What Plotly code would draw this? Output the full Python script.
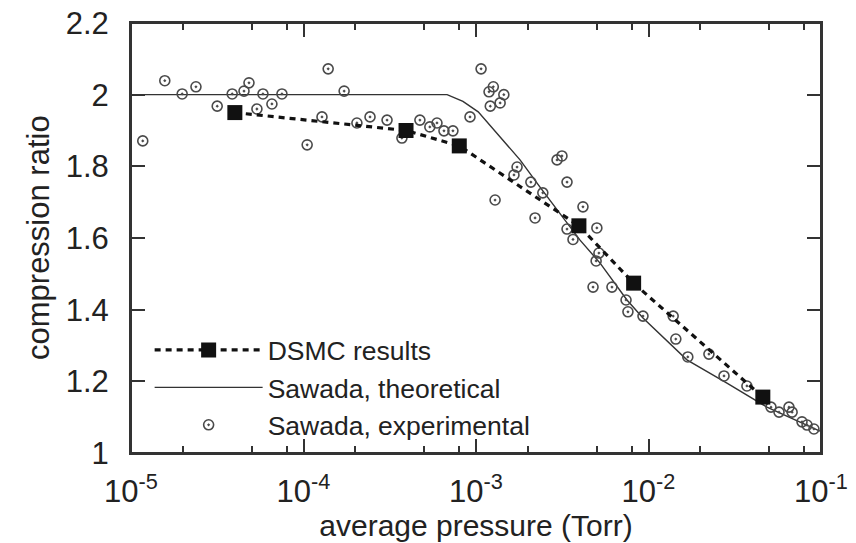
import plotly.graph_objects as go

# DSMC results
dsmc_p = [4.0e-5, 3.93e-4, 8.0e-4, 3.95e-3, 8.2e-3, 4.6e-2]
dsmc_r = [1.95, 1.90, 1.857, 1.634, 1.474, 1.156]

# Sawada, theoretical
theo_p = [1.0e-5, 6.8e-4, 8.4e-4, 1.03e-3, 1.38e-3, 1.80e-3, 2.35e-3, 2.95e-3,
          4.01e-3, 5.24e-3, 7.5e-3, 9.29e-3, 1.67e-2, 2.85e-2, 4.86e-2, 9.86e-2]
theo_r = [2.0, 2.0, 1.981, 1.952, 1.882, 1.818, 1.742, 1.678,
          1.594, 1.530, 1.427, 1.377, 1.260, 1.195, 1.128, 1.061]

# Sawada, experimental
exp_p = [1.17e-5, 1.57e-5, 1.98e-5, 2.38e-5, 3.16e-5, 3.86e-5, 4.52e-5, 4.83e-5,
         5.37e-5, 5.82e-5, 6.56e-5, 7.5e-5, 1.05e-4, 1.28e-4, 1.39e-4, 1.72e-4,
         2.04e-4, 2.43e-4, 3.05e-4, 3.72e-4, 4.73e-4, 5.4e-4, 5.94e-4, 6.52e-4,
         7.35e-4, 9.23e-4, 1.07e-3, 1.19e-3, 1.26e-3, 1.45e-3, 1.38e-3, 1.21e-3,
         1.29e-3, 1.73e-3, 1.66e-3, 2.08e-3, 2.44e-3, 2.20e-3, 2.95e-3, 3.15e-3,
         3.37e-3, 4.17e-3, 3.37e-3, 3.65e-3, 5.02e-3, 5.16e-3, 4.97e-3, 4.77e-3,
         6.14e-3, 7.41e-3, 7.6e-3, 9.29e-3, 1.39e-2, 1.44e-2, 1.69e-2, 2.24e-2,
         2.74e-2, 3.72e-2, 5.13e-2, 5.71e-2, 6.52e-2, 6.8e-2, 7.76e-2, 8.3e-2,
         9.1e-2]
exp_r = [1.871, 2.039, 2.002, 2.022, 1.968, 2.002, 2.010, 2.033,
         1.960, 2.002, 1.974, 2.002, 1.860, 1.938, 2.072, 2.010,
         1.921, 1.938, 1.929, 1.879, 1.929, 1.910, 1.921, 1.899,
         1.899, 1.938, 2.072, 2.008, 2.022, 2.000, 1.977, 1.968,
         1.706, 1.798, 1.776, 1.756, 1.726, 1.656, 1.818, 1.829,
         1.756, 1.687, 1.625, 1.596, 1.628, 1.558, 1.536, 1.463,
         1.463, 1.427, 1.394, 1.382, 1.382, 1.318, 1.268, 1.276,
         1.215, 1.187, 1.128, 1.114, 1.128, 1.114, 1.087, 1.078,
         1.067]

x_tickvals = [1e-5, 1e-4, 1e-3, 1e-2, 1e-1]
x_ticktext = ["10<sup>-5</sup>", "10<sup>-4</sup>", "10<sup>-3</sup>",
              "10<sup>-2</sup>", "10<sup>-1</sup>"]
x_minor = [m * 10.0 ** e for e in range(-5, -1) for m in (2, 5, 8)]
y_tickvals = [1.0, 1.2, 1.4, 1.6, 1.8, 2.0, 2.2]
y_ticktext = ["1", "1.2", "1.4", "1.6", "1.8", "2", "2.2"]
x_title = "average pressure (Torr)"
y_title = "compression ratio"

ink = "#222222"
FONT = "Liberation Sans, Arial, Helvetica, sans-serif"
fig = go.Figure()

fig.add_trace(go.Scatter(
    x=theo_p, y=theo_r, mode="lines", name="Sawada, theoretical",
    line=dict(color="#333333", width=1.4), legendrank=2))

fig.add_trace(go.Scatter(
    x=exp_p, y=exp_r, mode="markers", name="Sawada, experimental",
    marker=dict(symbol="circle-open-dot", size=10, color="#4a4a4a",
                line=dict(width=1.6, color="#4a4a4a")), legendrank=3))

fig.add_trace(go.Scatter(
    x=dsmc_p, y=dsmc_r, mode="lines+markers", name="DSMC results",
    line=dict(color="#111111", width=3.2, dash="6px,5px"),
    marker=dict(symbol="square", size=15, color="#111111"), legendrank=1))

# invisible copy on the top axis so that the top frame and its ticks are drawn
fig.add_trace(go.Scatter(
    x=theo_p, y=theo_r, mode="lines", xaxis="x2", opacity=0,
    showlegend=False, hoverinfo="skip", line=dict(width=1)))

axis_common = dict(showline=True, linecolor="#333333", linewidth=2,
                   mirror="ticks", ticks="inside", tickwidth=2,
                   tickcolor="#333333", showgrid=False, zeroline=False,
                   automargin=False, ticklabeloverflow="allow",
                   tickfont=dict(family=FONT, size=31, color=ink))
minor_x = dict(tickmode="array", tickvals=x_minor, ticks="inside",
               ticklen=7, tickwidth=1.6, tickcolor="#333333")

fig.update_layout(
    xaxis=dict(type="log", range=[-5, -1], tickmode="array",
               tickvals=x_tickvals, ticktext=x_ticktext, ticklen=14,
               ticklabelstandoff=10, minor=minor_x,
               title=dict(text=x_title, standoff=0,
                          font=dict(family=FONT, size=30, color=ink)),
               **axis_common),
    xaxis2=dict(type="log", range=[-5, -1], overlaying="x", side="top",
                anchor="y", tickmode="array", tickvals=x_tickvals,
                showticklabels=False, ticks="inside", ticklen=14, tickwidth=2,
                tickcolor="#333333", showline=True, linecolor="#333333",
                linewidth=2, showgrid=False, zeroline=False, automargin=False,
                minor=minor_x),
    yaxis=dict(range=[1, 2.2], tickmode="array", tickvals=y_tickvals,
               ticktext=y_ticktext, ticklen=14, ticklabelstandoff=14,
               **axis_common),
)

# plot frame (the page body adds an 8px margin, so sizes and margins are offset)
fig.update_layout(
    width=848, height=535,
    margin=dict(l=123, r=35, t=15, b=90, autoexpand=False),
    paper_bgcolor="white", plot_bgcolor="white",
    font=dict(family=FONT, color=ink),
    shapes=[dict(type="rect", xref="x domain", yref="y domain",
                 x0=0, x1=1, y0=0, y1=1, layer="above",
                 line=dict(color="#333333", width=2))],
    legend=dict(x=0.027, y=0.295, xanchor="left", yanchor="top",
                bgcolor="rgba(0,0,0,0)", itemwidth=108,
                font=dict(family=FONT, size=26.5, color=ink),
                tracegroupgap=0),
    showlegend=True,
    annotations=[dict(text=y_title, textangle=-90, xref="paper", yref="paper",
                      x=0, y=0.5, xanchor="center", yanchor="middle",
                      xshift=-93, showarrow=False,
                      font=dict(family=FONT, size=31, color=ink))],
)

fig.write_html("out.html", config={"displayModeBar": False})
